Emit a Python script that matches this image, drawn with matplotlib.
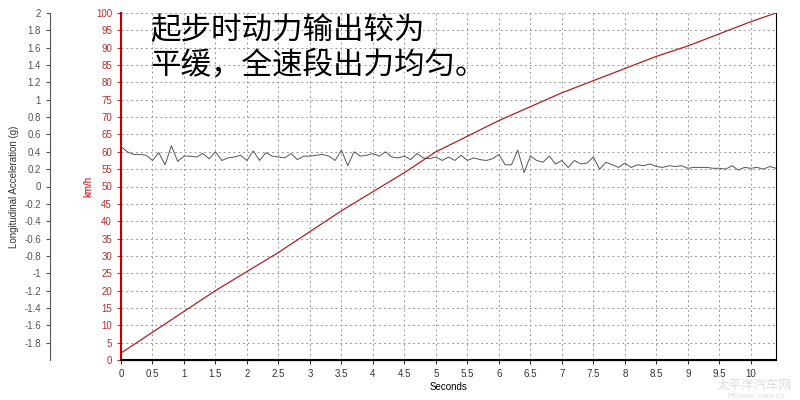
import numpy as np
import matplotlib.pyplot as plt

plt.rcParams['font.family'] = ['Liberation Sans', 'DejaVu Sans']
plt.rcParams['axes.unicode_minus'] = False

# speed curve (km/h)
speed_t = [0, 0.5, 1, 1.5, 2, 2.5, 3, 3.5, 4, 4.5, 5, 5.5, 6, 6.5, 7, 7.5, 8, 8.5, 9, 9.5, 10, 10.4]
speed_v = [2, 8, 14, 20, 25.5, 31, 37, 43, 48.5, 54, 60, 64.5, 69, 73, 77, 80.5, 84, 87.5, 90.5, 94, 97.5, 100]

# longitudinal acceleration (g), one sample every 0.1 s
accel = [0.46, 0.40, 0.37, 0.37, 0.36, 0.30, 0.39, 0.25, 0.47, 0.29, 0.35, 0.35, 0.34, 0.38, 0.32,
         0.40, 0.30, 0.33, 0.34, 0.36, 0.30, 0.41, 0.30, 0.39, 0.35, 0.34, 0.33, 0.38, 0.31, 0.35,
         0.35, 0.36, 0.37, 0.35, 0.30, 0.42, 0.24, 0.40, 0.35, 0.36, 0.38, 0.35, 0.40, 0.34, 0.33,
         0.35, 0.31, 0.38, 0.33, 0.32, 0.34, 0.30, 0.34, 0.30, 0.36, 0.30, 0.33, 0.31, 0.30, 0.32,
         0.37, 0.25, 0.25, 0.42, 0.16, 0.35, 0.30, 0.28, 0.35, 0.26, 0.30, 0.22, 0.30, 0.26, 0.27,
         0.34, 0.20, 0.28, 0.25, 0.22, 0.27, 0.22, 0.25, 0.24, 0.26, 0.23, 0.22, 0.24, 0.23, 0.24,
         0.21, 0.22, 0.22, 0.22, 0.21, 0.21, 0.20, 0.24, 0.19, 0.22, 0.21, 0.22, 0.20, 0.23, 0.21]
accel_t = np.arange(len(accel)) * 0.1

g_ticks = np.round(np.arange(-1.8, 2.01, 0.2), 1) + 0.0

fig = plt.figure(figsize=(8, 4), dpi=100)
ax = fig.add_axes([121/800, 40/400, 655/800, 347/400])
ax.set_xlim(0, 10.4)
ax.set_ylim(0, 100)
ax.set_xticks(np.arange(0, 10.01, 0.5))
ax.set_xticklabels(['%g' % v for v in np.arange(0, 10.01, 0.5)])
ax.set_yticks(np.arange(0, 101, 5))
ax.tick_params(axis='y', colors='#b03030', labelsize=7, length=3)
ax.tick_params(axis='x', labelsize=7, colors='#333333', length=3)
ax.spines['left'].set_color('#c00000')
ax.spines['left'].set_linewidth(1.5)
ax.spines['bottom'].set_linewidth(1.5)
ax.spines['top'].set_visible(False)
ax.grid(True, linestyle=(0, (2, 3)), color='#999999', linewidth=0.7)
ax.set_xlabel('Seconds', fontsize=7, labelpad=2)
ax.set_ylabel('km/h', fontsize=7, color='#c00000', labelpad=2)
ax.plot(speed_t, speed_v, color='#b02020', linewidth=0.9)

ax2 = ax.twinx()
ax2.set_ylim(-2, 2)
ax2.yaxis.set_label_position('left')
ax2.yaxis.tick_left()
ax2.spines['left'].set_position(('outward', 51))
ax2.spines['left'].set_color('#555555')
ax2.spines['right'].set_visible(False)
ax2.spines['top'].set_visible(False)
ax2.set_yticks(list(g_ticks))
ax2.set_yticklabels(['0' if abs(v) < 1e-9 else '%g' % v for v in g_ticks])
ax2.tick_params(axis='y', labelsize=7, colors='#555555', length=3)
ax2.set_ylabel('Longitudinal Acceleration (g)', fontsize=7, color='#333333', labelpad=4)
ax2.plot(accel_t, accel, color='#555555', linewidth=0.7)

fig.text(150/800, 1 - 48/400, '起步时动力输出较为\n平缓，全速段出力均匀。', fontsize=22,
         family=['Noto Sans CJK SC', 'DejaVu Sans'], fontweight='light', va='center',
         linespacing=1.15)
fig.text(792/800, 1 - 385/400, '太平洋汽车网', fontsize=9, color='#dddddd', ha='right',
         va='center', family=['Noto Sans CJK SC', 'DejaVu Sans'])
fig.text(785/800, 1 - 396/400, 'PCauto.com.cn', fontsize=6, color='#dddddd', ha='right',
         va='center')

fig.savefig('out.png', dpi=100)
